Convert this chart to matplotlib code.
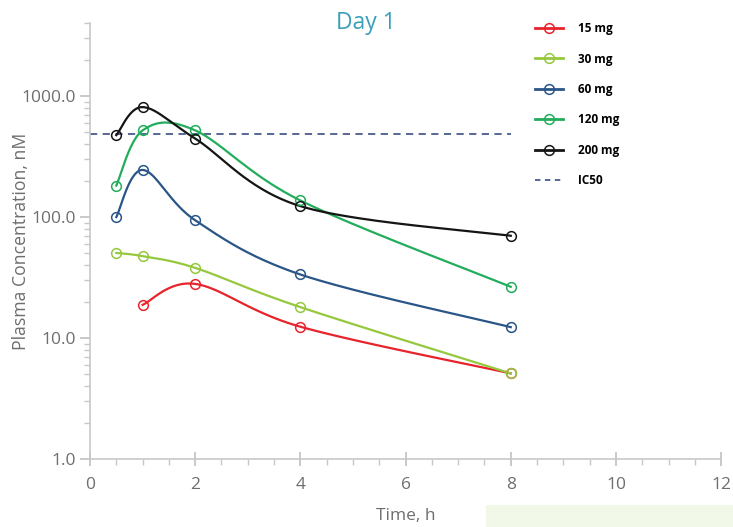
import numpy as np
import matplotlib
matplotlib.use("Agg")
import matplotlib.pyplot as plt
from matplotlib.lines import Line2D
from matplotlib.patches import Rectangle
from matplotlib.ticker import FuncFormatter, LogLocator, MultipleLocator

plt.rcParams['font.family'] = ['Open Sans', 'DejaVu Sans']

# donnees
temps = [0.5, 1, 2, 4, 8]
doses = ["15 mg", "30 mg", "60 mg", "120 mg", "200 mg"]
conc_15 = [None, 18.8, 28.0, 12.4, 5.1]
conc_30 = [50.5, 47.5, 38.0, 18.0, 5.1]
conc_60 = [100.0, 245.0, 94.0, 33.5, 12.3]
conc_120 = [182.0, 520.0, 520.0, 137.0, 26.5]
conc_200 = [475.0, 810.0, 445.0, 123.0, 70.0]
ic50 = 490.0
ic50_t = [0, 8]
couleurs = ["#e8232b", "#96c83e", "#2a5587", "#22ad5c", "#151515"]
series = [conc_15, conc_30, conc_60, conc_120, conc_200]


def courbe_lisse(x, y, n=40):
    # spline type Catmull-Rom dans l'espace (x, log y), comme un "smooth line"
    pts = np.column_stack([x, np.log10(y)])
    xs, ys = [], []
    for i in range(len(pts) - 1):
        p0 = pts[i - 1] if i > 0 else pts[i]
        p1 = pts[i]
        p2 = pts[i + 1]
        p3 = pts[i + 2] if i + 2 < len(pts) else pts[i + 1]
        c1 = p1 + (p2 - p0) / 6
        c2 = p2 - (p3 - p1) / 6
        t = np.linspace(0, 1, n)[:, None]
        b = (1 - t) ** 3 * p1 + 3 * (1 - t) ** 2 * t * c1 + 3 * (1 - t) * t ** 2 * c2 + t ** 3 * p2
        xs.extend(b[:, 0])
        ys.extend(b[:, 1])
    return np.array(xs), 10 ** np.array(ys)


fig = plt.figure(figsize=(7.33, 5.27), dpi=100)
ax = fig.add_axes([0.1228, 0.129, 0.861, 0.827])

ax.plot(ic50_t, [ic50, ic50], color="#4b5a8c", linestyle=(0, (4, 3)), linewidth=1.3, zorder=2)

for conc, col in zip(series, couleurs):
    x = [t for t, c in zip(temps, conc) if c is not None]
    y = [c for c in conc if c is not None]
    xs, ys = courbe_lisse(x, y)
    ax.plot(xs, ys, color=col, linewidth=1.6, zorder=3)
    ax.plot(x, y, linestyle="none", marker="o", markersize=7, markerfacecolor="none",
            markeredgecolor=col, markeredgewidth=1.1, zorder=4)

ax.set_yscale("log")
ax.set_ylim(1, 4000)
ax.set_xlim(0, 12)
ax.xaxis.set_major_locator(MultipleLocator(2))
ax.xaxis.set_minor_locator(MultipleLocator(0.5))
ax.yaxis.set_major_locator(LogLocator(base=10, numticks=10))
ax.yaxis.set_minor_locator(LogLocator(base=10, subs=np.arange(2, 10), numticks=10))
ax.yaxis.set_minor_formatter(plt.NullFormatter())
ax.yaxis.set_major_formatter(FuncFormatter(lambda v, p: f"{v:.1f}"))

for s in ["top", "right"]:
    ax.spines[s].set_visible(False)
for s in ["left", "bottom"]:
    ax.spines[s].set_color("#c8c8c8")
    ax.spines[s].set_linewidth(1.2)
ax.tick_params(axis="both", which="major", colors="#c0c0c0", labelcolor="#6e6e6e",
               labelsize=12.5, length=7, width=1.2)
ax.tick_params(axis="x", which="major", direction="inout", length=10, pad=8)
ax.tick_params(axis="both", which="minor", colors="#c8c8c8", length=4, width=1)
ax.set_facecolor("none")

ax.set_ylabel("Plasma Concentration, nM", color="#6e6e6e", fontsize=12.7)
ax.yaxis.set_label_coords(-0.095, 0.5)
fig.text(0.554, 0.005, "Time, h", color="#6e6e6e", fontsize=12.5, ha="center", va="bottom")
fig.text(0.499, 0.957, "Day 1", color="#3a9fb8", fontsize=16.5, ha="center", va="center")

# legende a droite
handles = [Line2D([], [], color=c, linewidth=2, marker="o", markersize=7,
                  markerfacecolor="none", markeredgewidth=1.1) for c in couleurs]
handles.append(Line2D([], [], color="#4b5a8c", linestyle=(0, (3, 2.5)), linewidth=1.3))
leg = fig.legend(handles, doses + ["IC50"], loc="upper left", bbox_to_anchor=(0.715, 0.978),
                 frameon=False, handlelength=2.4, handletextpad=1.3, labelspacing=1.47,
                 prop={"weight": "bold", "size": 8.5})

fig.patches.append(Rectangle((0.663, 0.0), 0.337, 0.042, transform=fig.transFigure,
                             facecolor="#f1f8e8", edgecolor="none", zorder=0))

fig.savefig("out.png", dpi=100)
